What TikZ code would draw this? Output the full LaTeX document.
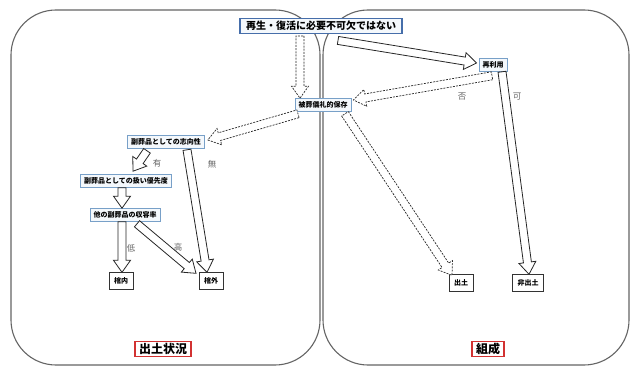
\documentclass[tikz,border=0pt]{standalone}
\usepackage{fontspec}
\setmainfont{Noto Sans CJK JP}
\usepackage{tikz}
\usetikzlibrary{calc, positioning}
\definecolor{boxblue}{RGB}{70,110,170}
\definecolor{lightblue}{RGB}{120,160,200}
\definecolor{boxfill}{RGB}{244,248,252}
\definecolor{framered}{RGB}{210,50,50}
\definecolor{panelgray}{RGB}{100,100,100}
\tikzset{
    panel/.style = {draw=panelgray, line width=1.1pt, rounded corners=45pt},
    mainnode/.style = {draw=boxblue, line width=1.2pt, fill=boxfill, rectangle, inner xsep=6pt, inner ysep=3pt,
      node distance=0em, font=\fontsize{10}{11}\selectfont\bfseries},
    stepnode/.style = {draw=lightblue, line width=0.9pt, fill=boxfill, rectangle, inner xsep=3.5pt, inner ysep=3pt,
      node distance=0em, font=\fontsize{7}{8}\selectfont\bfseries},
    endnode/.style = {draw=black!80, line width=0.7pt, rectangle, inner xsep=5pt, inner ysep=5pt,
      node distance=0em, font=\fontsize{7}{8}\selectfont\bfseries},
    titlenode/.style = {draw=framered, line width=1.1pt, rectangle, inner xsep=4pt, inner ysep=2pt,
      node distance=0em, font=\fontsize{12}{13}\selectfont\bfseries},
    labelnode/.style = {draw=none, fill=none, inner sep=0em, node distance=0em, text=black!60,
      font=\fontsize{8.5}{9}\selectfont},
    hollow/.style = {draw=black!85, line width=0.8pt, fill=white, line join=miter},
    hollowdash/.style = {hollow, dashed, dash pattern=on 2pt off 1.2pt, line width=0.7pt}
}
% sizes of the big arrows
\def\arrowsw{4pt}
\def\arrowhw{8.5pt}
\def\arrowhl{12pt}
\newcommand{\bigarrow}[3][hollow]{%
  \coordinate (ba-s) at (#2);
  \coordinate (ba-t) at (#3);
  \coordinate (ba-h) at ($(ba-t)!\arrowhl!(ba-s)$);
  \draw [#1] ($(ba-s)!\arrowsw!90:(ba-t)$) -- ($(ba-h)!\arrowsw!-90:(ba-s)$) -- ($(ba-h)!\arrowhw!-90:(ba-s)$)
    -- (ba-t) -- ($(ba-h)!\arrowhw!90:(ba-s)$) -- ($(ba-h)!\arrowsw!90:(ba-s)$) -- ($(ba-s)!\arrowsw!-90:(ba-t)$) -- cycle;
}
\begin{document}
\begin{tikzpicture}[x=1pt, y=-1pt]
    \useasboundingbox (0,0) rectangle (631,366);
    \draw [panel] (11,10) rectangle (320,365);
    \draw [panel] (323,10) rectangle (629,365);

    \node [mainnode, name=top] at (321,26) {再生・復活に必要不可欠ではない};
    \node [stepnode, name=keep, below of=top, xshift=2pt, yshift=-79pt] {被葬儀礼的保存};
    \node [stepnode, name=reuse, right of=top, xshift=172pt, yshift=-39pt] {再利用};

    \node [stepnode, name=intent, below of=top, xshift=-155pt, yshift=-116pt] {副葬品としての志向性};
    \node [stepnode, name=priority, below of=intent, xshift=-40pt, yshift=-39pt] {副葬品としての扱い優先度};
    \node [stepnode, name=ratio, below of=priority, xshift=-1pt, yshift=-34pt] {他の副葬品の収容率};
    \node [endnode, name=inside, below of=ratio, xshift=-4pt, yshift=-66pt] {棺内};
    \node [endnode, name=outside, right of=inside, xshift=90pt] {棺外};

    \node [endnode, name=found, below of=reuse, xshift=-32pt, yshift=-218pt] {出土};
    \node [endnode, name=notfound, right of=found, xshift=67pt] {非出土};

    \node [titlenode, name=titleL, below of=top, xshift=-158pt, yshift=-323pt] {出土状況};
    \node [titlenode, name=titleR, below of=top, xshift=167pt, yshift=-323pt] {組成};

    \node [labelnode, name=yes, below of=intent, xshift=-9pt, yshift=-21pt] {有};
    \node [labelnode, name=no, below of=intent, xshift=46pt, yshift=-22pt] {無};
    \node [labelnode, name=low, below of=ratio, xshift=6pt, yshift=-33pt] {低};
    \node [labelnode, name=high, below of=ratio, xshift=53pt, yshift=-32pt] {高};
    \node [labelnode, name=deny, below of=reuse, xshift=-31pt, yshift=-32pt] {否};
    \node [labelnode, name=allow, below of=reuse, xshift=24pt, yshift=-32pt] {可};

    % solid arrows
    \bigarrow{[xshift=17pt,yshift=-6pt]top.south}{[xshift=-2pt,yshift=2pt]reuse.west}
    \bigarrow{[xshift=9pt]reuse.south}{[xshift=1pt]notfound.north}
    \bigarrow{[xshift=21pt,yshift=-1pt]intent.south}{[xshift=-4pt]outside.north}
    \bigarrow{[xshift=-19pt,yshift=-2pt]intent.south}{[xshift=7pt,yshift=3pt]priority.north}
    \bigarrow{[xshift=-4pt]priority.south}{[xshift=-3pt]ratio.north}
    \bigarrow{[xshift=-3pt]ratio.south}{[xshift=1pt]inside.north}
    \bigarrow{[xshift=12pt,yshift=-2pt]ratio.south}{[xshift=-15pt,yshift=-1pt]outside.north}

    % dashed arrows
    \bigarrow[hollowdash]{[xshift=-21pt,yshift=-1.5pt]top.south}{[xshift=-23pt]keep.north}
    \bigarrow[hollowdash]{[xshift=-1pt,yshift=-4pt]reuse.south}{[xshift=2pt,yshift=5pt]keep.east}
    \bigarrow[hollowdash]{[xshift=-25pt,yshift=-2pt]keep.south}{[xshift=3pt,yshift=2pt]intent.east}
    \bigarrow[hollowdash]{[xshift=22pt,yshift=-2pt]keep.south}{[xshift=-9pt,yshift=-1pt]found.north}
\end{tikzpicture}
\end{document}
